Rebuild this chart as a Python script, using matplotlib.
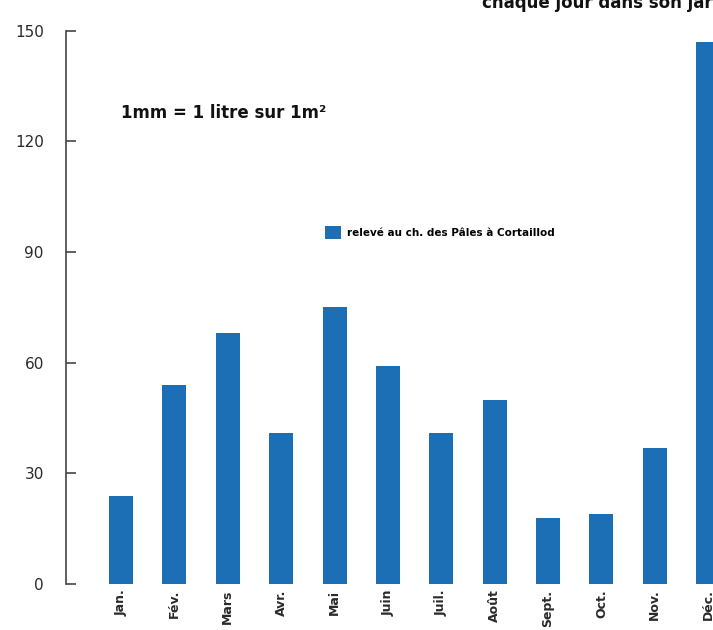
import matplotlib
matplotlib.use("Agg")
import matplotlib.pyplot as plt

# monthly rainfall (mm)
months = ["Jan.", "Fév.", "Mars", "Avr.", "Mai", "Juin",
          "Juil.", "Août", "Sept.", "Oct.", "Nov.", "Déc."]
rain = [24, 54, 68, 41, 75, 59, 41, 50, 18, 19, 37, 147]
yticks = [0, 30, 60, 90, 120, 150]

blue = "#1c6fb5"
dark = "#2a2a2a"

fig = plt.figure(figsize=(7.13, 6.3), dpi=100)
ax = fig.add_axes([0.0926, 0.073, 0.9074, 0.878])

x = range(len(months))
ax.bar(x, rain, width=0.45, color=blue, label="relevé au ch. des Pâles à Cortaillod")

ax.set_xlim(-1.03, 11.09)
ax.set_ylim(0, 150)
ax.set_yticks(yticks)
ax.set_yticklabels([str(v) for v in yticks], fontsize=11, color=dark)
ax.tick_params(axis="y", direction="in", length=7, width=1.2, color="#444444", pad=16)
ax.set_xticks(list(x))
ax.set_xticklabels(months, rotation=90, fontsize=9, fontweight="bold", color=dark,
                   va="top")
ax.tick_params(axis="x", length=0, pad=4)

for s in ["top", "right", "bottom"]:
    ax.spines[s].set_visible(False)
ax.spines["left"].set_color("#444444")
ax.spines["left"].set_linewidth(1.2)

ax.text(0.17, 0.82, "1mm = 1 litre sur 1m²", transform=fig.transFigure,
        fontsize=12, fontweight="bold", color="#111111", va="center")

ax.legend(loc="upper left", bbox_to_anchor=(0.45, 0.648), bbox_transform=fig.transFigure,
          frameon=False, prop={"size": 7.5, "weight": "bold"}, handlelength=1.5,
          handleheight=1.5, handletextpad=0.6, borderaxespad=0)

fig.text(482 / 713, 1 - 8 / 630, "chaque jour dans son jardin", fontsize=12,
         fontweight="bold", color="#111111", va="baseline", ha="left")

fig.savefig("out.png", dpi=100)
